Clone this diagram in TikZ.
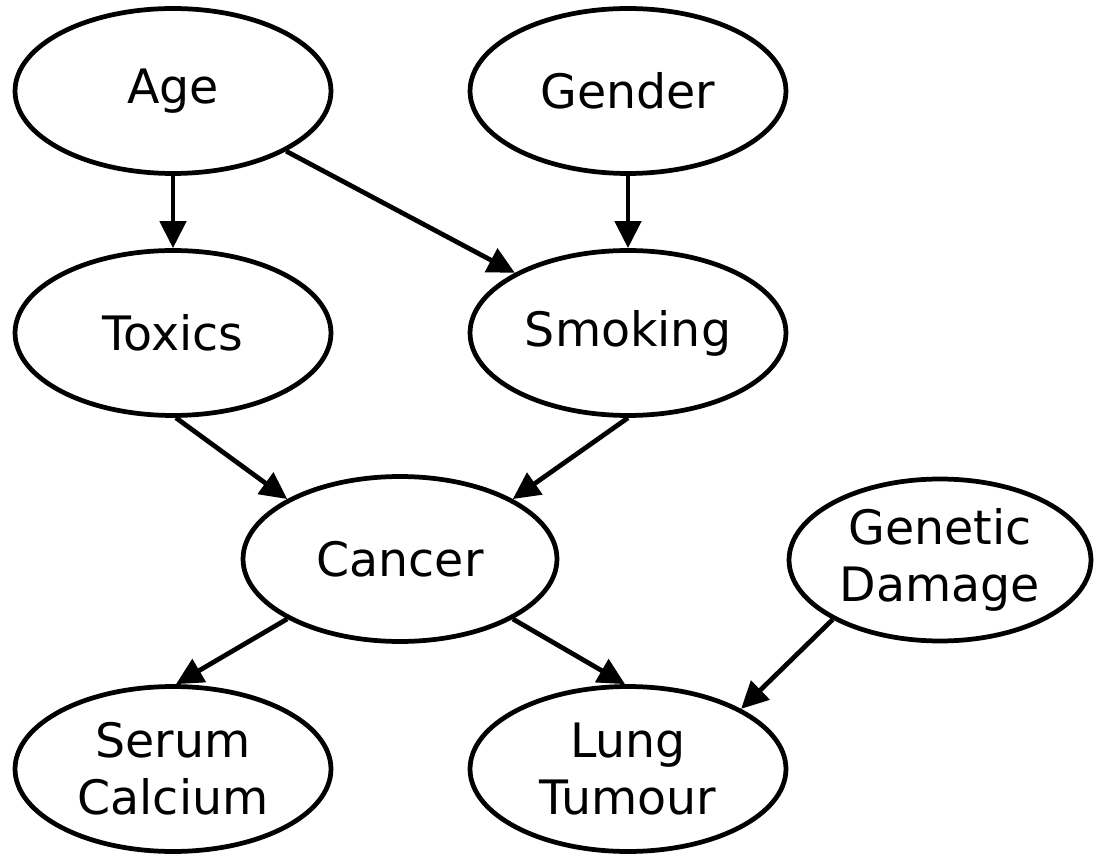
\documentclass[tikz,border=0pt]{standalone}
\usepackage{fontspec}
\setmainfont{DejaVu Sans}
\usetikzlibrary{shapes.geometric,arrows.meta}
\begin{document}
\begin{tikzpicture}[x=0.02cm,y=-0.02cm,
        var/.style={draw,ellipse,line width=2.7pt,inner sep=0pt,minimum width=6.32cm,minimum height=3.3cm,align=center,font=\fontsize{27}{32.4}\selectfont},
        edge/.style={line width=2.7pt,-{Triangle[length=0.54cm,width=0.52cm]}}]
        \useasboundingbox (0,0) rectangle (1095,854);

        \node[var] (age) at (173,91) {Age};
        \node[var] (gender) at (628,91) {Gender};
        \node[var] (toxics) at (173,333) {Toxics};
        \node[var] (smoking) at (628,333) {Smoking};
        \node[var,minimum width=6.28cm] (cancer) at (400,559) {Cancer};
        \node[var,minimum width=6.04cm,minimum height=3.24cm] (genetic) at (940,560) {Genetic\\Damage};
        \node[var] (serum) at (173,769) {Serum\\Calcium};
        \node[var] (lung) at (628,769) {Lung\\Tumour};

        \draw[edge] (age) -- (toxics);
        \draw[edge] (age.-28) -- (smoking.152);
        \draw[edge] (gender) -- (smoking);
        \draw[edge] (toxics.-88) -- (cancer.152);
        \draw[edge] (smoking.-90) -- (cancer.28);
        \draw[edge] (cancer.-152) -- (serum.88);
        \draw[edge] (cancer.-28) -- (lung.92);
        \draw[edge] (genetic.-151) -- (lung.28);
    \end{tikzpicture}
\end{document}
